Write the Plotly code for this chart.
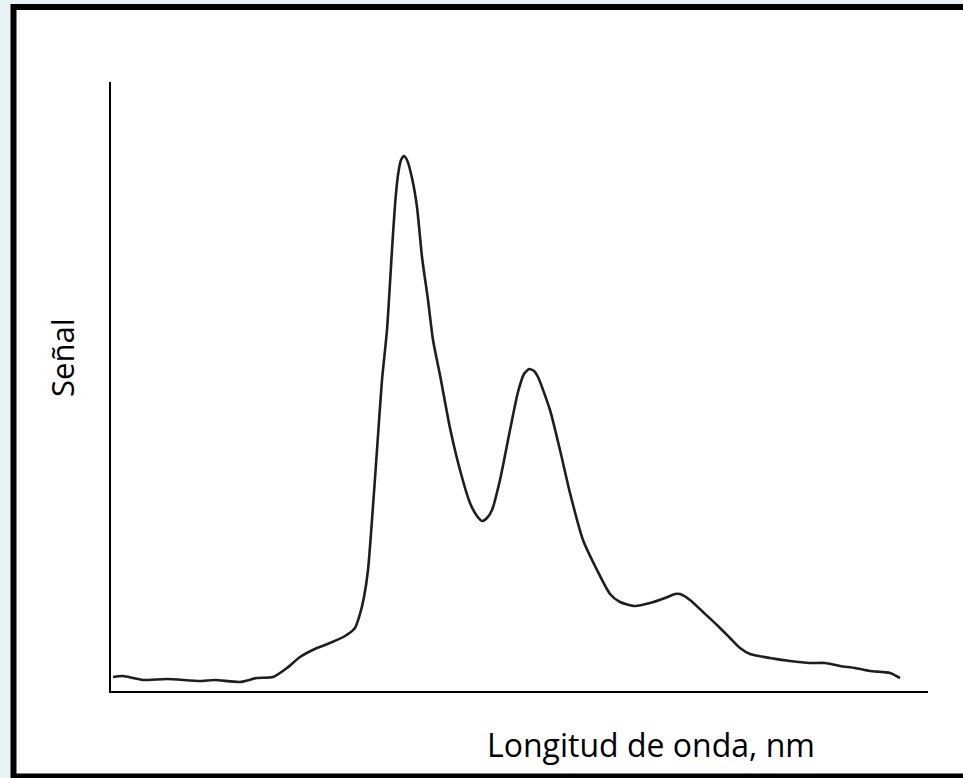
import plotly.graph_objects as go

# Spectrum (arbitrary units: wavelength index, signal)
wavelength = [2, 12, 22, 32, 56, 89, 104, 129, 146, 162, 176, 189, 206, 219, 234, 244,
              249, 253, 257, 261, 266, 271, 276, 281, 284, 287, 290, 293, 296, 301,
              306, 311, 317, 322, 329, 339, 349, 359, 366, 371, 376, 381, 389, 399,
              407, 413, 418, 423, 427, 439, 449, 459, 472, 486, 499, 509, 524, 539,
              554, 564, 569, 579, 592, 607, 619, 629, 639, 659, 679, 699, 714, 729,
              744, 759, 779, 789]
signal = [14, 15, 13, 11, 12, 10, 11, 9, 13, 14, 23, 34, 43, 48, 55, 63,
          77, 94, 121, 171, 241, 311, 361, 441, 486, 516, 531, 535, 531, 513,
          484, 434, 391, 351, 316, 263, 221, 188, 175, 170, 173, 181, 211, 261,
          299, 317, 322, 320, 314, 281, 241, 198, 151, 121, 97, 89, 85, 88,
          93, 97, 97, 91, 79, 65, 53, 43, 37, 33, 30, 28, 28, 25, 23, 20, 18, 13]

x_title = "Longitud de onda, nm"
y_title = "Señal"

FONT = "Open Sans"

fig = go.Figure()
fig.add_trace(go.Scatter(
    x=wavelength, y=signal, mode="lines",
    line=dict(color="#1e1e1e", width=2.6, shape="spline", smoothing=0.6),
    hoverinfo="skip", showlegend=False,
))

L, R, T, B = 111, 35, 82, 87
W, H = 963, 778
pw, ph = W - L - R, H - T - B

def px(x):
    return (x - L) / pw

def py(y):
    return (H - B - y) / ph

fig.update_layout(
    width=W, height=H,
    margin=dict(l=L, r=R, t=T, b=B, pad=0),
    paper_bgcolor="#e6f2f4",
    plot_bgcolor="white",
    xaxis=dict(range=[0, 817], showline=True, linecolor="black", linewidth=2,
               showticklabels=False, ticks="", showgrid=False, zeroline=False,
               fixedrange=True),
    yaxis=dict(range=[0, 609], showline=True, linecolor="black", linewidth=2,
               showticklabels=False, ticks="", showgrid=False, zeroline=False,
               fixedrange=True),
    shapes=[dict(type="rect", xref="paper", yref="paper",
                 x0=px(13.5), x1=px(975), y0=py(7), y1=py(776.5),
                 line=dict(color="black", width=6), fillcolor="white",
                 layer="below")],
    annotations=[
        dict(text=x_title, xref="paper", yref="paper", x=px(651), y=py(744),
             xanchor="center", yanchor="middle", showarrow=False,
             font=dict(family=FONT, size=32, color="black")),
        dict(text=y_title, xref="paper", yref="paper", x=px(62), y=py(358),
             xanchor="center", yanchor="middle", showarrow=False, textangle=-90,
             font=dict(family=FONT, size=31, color="black")),
    ],
)

fig.write_html("out.html")
